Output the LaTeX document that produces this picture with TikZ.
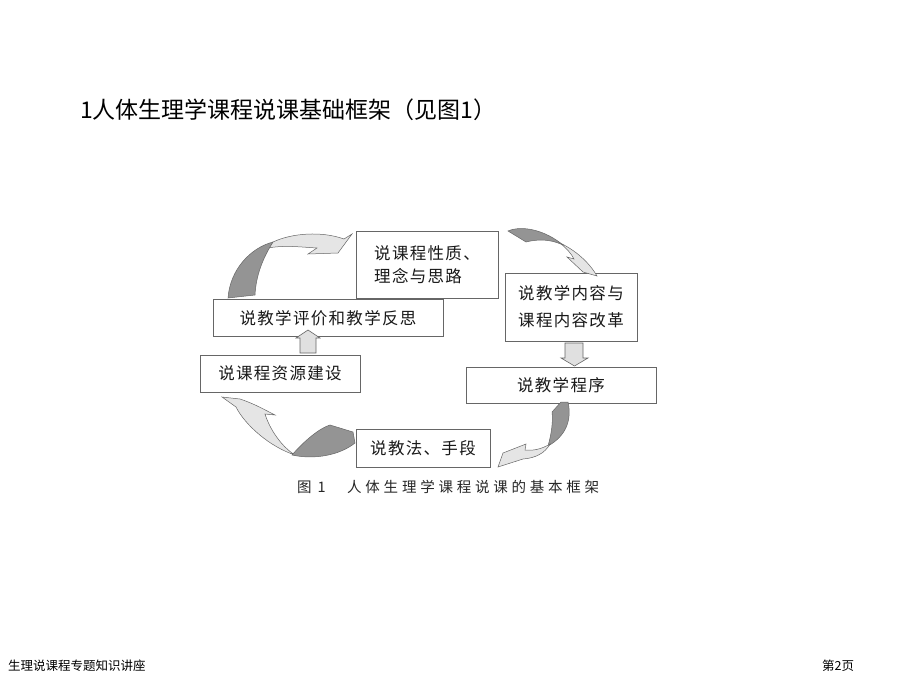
\documentclass[tikz,border=0pt]{standalone}
\usepackage{fontspec}
\setmainfont{Noto Sans CJK SC}
\newfontfamily\boxfont[LetterSpace=8]{Noto Sans CJK SC}
\newfontfamily\capfont[LetterSpace=26]{Noto Sans CJK SC}
\begin{document}
\begin{tikzpicture}[x=1pt,y=-1pt,
  boxst/.style={draw=black!60,line width=0.9pt,fill=white,inner sep=0pt,align=center,
    text=black!90,font=\boxfont\fontsize{16.5}{27}\selectfont},
  darkpart/.style={fill=black!42,draw=black!60,line width=0.5pt},
  lightpart/.style={fill=black!10,draw=black!60,line width=0.5pt},
  blockarr/.style={fill=black!12,draw=black!60,line width=0.6pt}]
\useasboundingbox (0,0) rectangle (920,690);
% title
\node[anchor=west,inner sep=0pt,font=\fontsize{23}{27}\selectfont] (title) at (80,110) {1人体生理学课程说课基础框架（见图1）};
% boxes
\node[boxst,minimum width=142,minimum height=67,align=left,font=\boxfont\fontsize{16.5}{23}\selectfont] (b1) at (427,264.5) {说课程性质、\\理念与思路};
\node[boxst,minimum width=132,minimum height=68] (b2) at (571,307) {说教学内容与\\课程内容改革};
\node[boxst,minimum width=190,minimum height=36] (b3) at (561,385) {说教学程序};
\node[boxst,minimum width=134,minimum height=38] (b4) at (423,448) {\raisebox{-3pt}{说教法、手段}};
\node[boxst,minimum width=160,minimum height=37] (b5) at (280,373.5) {说课程资源建设};
\node[boxst,minimum width=230,minimum height=37] (b6) at (328,318.3) {说教学评价和教学反思};
% straight block arrows
\draw[blockarr] (300,353) -- (300,338) -- (296,338) -- (308,330) -- (320,338) -- (316,338) -- (316,353) -- cycle;
\draw[blockarr] (565,343) -- (565,358) -- (561,358) -- (574.5,366) -- (588,358) -- (583,358) -- (583,343) -- cycle;
% curved arrow 1 (top left)
\draw[lightpart] (273,242) .. controls (292,233) and (322,231) .. (344,239) -- (352,234) -- (338,253) -- (308,254) -- (317,248) .. controls (300,247) and (284,245) .. (268,248) -- cycle;
\draw[darkpart] (228,298) .. controls (230,270) and (250,248) .. (273,242) .. controls (263,258) and (256,275) .. (255,295) -- cycle;
% curved arrow 2 (top right)
\draw[darkpart] (508,231) .. controls (522,225) and (545,230) .. (563,245) .. controls (550,239) and (538,239) .. (526,242) -- cycle;
\draw[lightpart] (560,243) .. controls (575,250) and (589,262) .. (597,276) -- (583,272) -- (567,257) -- (574,259) .. controls (571,253) and (566,248) .. (560,243) -- cycle;
% curved arrow 3 (right bottom)
\draw[darkpart] (561,402) -- (568,402) .. controls (572,420) and (566,436) .. (548,446) .. controls (552,432) and (553,420) .. (552,412) -- cycle;
\draw[lightpart] (550,444) .. controls (542,449) and (533,451) .. (525,450) -- (526,444) -- (503,453) -- (498,467) -- (523,459) .. controls (536,458) and (545,453) .. (550,444) -- cycle;
% curved arrow 4 (bottom left)
\draw[lightpart] (222,397) -- (240,399) .. controls (255,404) and (265,410) .. (275,415) -- (265,414) .. controls (270,430) and (282,447) .. (295,455) .. controls (270,447) and (245,425) .. (236,407) -- cycle;
\draw[darkpart] (292,455) .. controls (305,440) and (320,428) .. (330,425) -- (353,432) -- (355,443) .. controls (340,455) and (315,460) .. (292,455) -- cycle;
% caption
\node[anchor=west,inner sep=0pt,text=black!85,font=\fontsize{14.5}{17}\selectfont] (cap1) at (297,487) {图\hspace{6pt}1};
\node[anchor=west,inner sep=0pt,text=black!85,font=\capfont\fontsize{14.5}{17}\selectfont] (cap2) at (347,487) {人体生理学课程说课的基本框架};
% footer
\node[anchor=west,inner sep=0pt,font=\fontsize{12.5}{15}\selectfont] (foot) at (8,666) {生理说课程专题知识讲座};
\node[anchor=west,inner sep=0pt,font=\fontsize{12.5}{15}\selectfont] (page) at (822,666) {第2页};
\end{tikzpicture}
\end{document}
